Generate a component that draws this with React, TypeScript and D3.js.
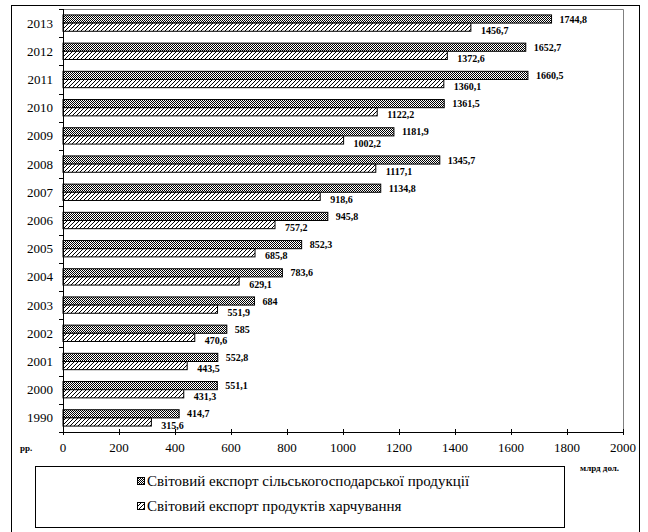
import React, { useEffect, useRef } from 'react';
import * as d3 from 'd3';

const years = ['2013', '2012', '2011', '2010', '2009', '2008', '2007', '2006', '2005', '2004', '2003', '2002', '2001', '2000', '1990'];
const agriExport = [1744.8, 1652.7, 1660.5, 1361.5, 1181.9, 1345.7, 1134.8, 945.8, 852.3, 783.6, 684, 585, 552.8, 551.1, 414.7];
const foodExport = [1456.7, 1372.6, 1360.1, 1122.2, 1002.2, 1117.1, 918.6, 757.2, 685.8, 629.1, 551.9, 470.6, 443.5, 431.3, 315.6];
const xTicks = [0, 200, 400, 600, 800, 1000, 1200, 1400, 1600, 1800, 2000];
const seriesNames = [
  'Світовий експорт сільськогосподарської продукції',
  'Світовий експорт продуктів харчування',
];

const SERIF = 'Liberation Serif';

// 684 -> "684", 551.9 -> "551,9"
const fmt = (v: number) => (Number.isInteger(v) ? String(v) : v.toFixed(1).replace('.', ','));

const App: React.FC = () => {
  const svgRef = useRef<SVGSVGElement>(null);

  useEffect(() => {
    if (!svgRef.current) return;
    const height = 532;
    const plot = { left: 63, right: 623, top: 9, bottom: 432 };

    const svg = d3.select(svgRef.current);
    svg.selectAll('*').remove();

    // patterns
    const defs = svg.append('defs');
    const checker = defs.append('pattern')
      .attr('id', 'checker')
      .attr('patternUnits', 'userSpaceOnUse')
      .attr('width', 2).attr('height', 2);
    checker.append('rect').attr('width', 2).attr('height', 2).attr('fill', '#fff');
    checker.append('rect').attr('width', 1).attr('height', 1).attr('fill', '#000');
    checker.append('rect').attr('x', 1).attr('y', 1).attr('width', 1).attr('height', 1).attr('fill', '#000');

    const hatch = defs.append('pattern')
      .attr('id', 'hatch')
      .attr('patternUnits', 'userSpaceOnUse')
      .attr('width', 4).attr('height', 4);
    hatch.append('rect').attr('width', 4).attr('height', 4).attr('fill', '#fff');
    hatch.append('path')
      .attr('d', 'M-1,1 l2,-2 M0,4 l4,-4 M3,5 l2,-2')
      .attr('stroke', '#000').attr('stroke-width', 1);

    const fills = ['url(#checker)', 'url(#hatch)'];

    // outer frame
    svg.append('rect')
      .attr('x', 11.5).attr('y', 5.5)
      .attr('width', 628).attr('height', height + 10)
      .attr('fill', 'none').attr('stroke', '#000').attr('stroke-width', 1);

    // plot area border
    svg.append('path')
      .attr('d', `M${plot.left},${plot.top + 0.5} H${plot.right + 0.5} V${plot.bottom}`)
      .attr('fill', 'none').attr('stroke', '#808080').attr('stroke-width', 1);

    const x = d3.scaleLinear().domain([0, 2000]).range([plot.left, plot.right]);
    const y = d3.scaleBand<string>()
      .domain(years)
      .range([plot.top, plot.bottom])
      .paddingInner(0.42)
      .paddingOuter(0.21);
    const sub = d3.scaleBand<number>().domain([0, 1]).range([0, y.bandwidth()]);

    const rows = years.map((yr, i) => ({ yr, vals: [agriExport[i], foodExport[i]] }));

    const g = svg.append('g');
    rows.forEach((r) => {
      r.vals.forEach((v, s) => {
        const y0 = (y(r.yr) as number) + (sub(s) as number);
        g.append('rect')
          .attr('x', x(0))
          .attr('y', y0)
          .attr('width', x(v) - x(0))
          .attr('height', sub.bandwidth())
          .attr('fill', fills[s])
          .attr('stroke', '#000')
          .attr('stroke-width', 1);
        g.append('text')
          .attr('x', x(v) + (s === 0 ? 8 : 10))
          .attr('y', s === 0 ? y0 + sub.bandwidth() / 2 + 3.5 : y0 + sub.bandwidth() + 2.5)
          .attr('font-family', SERIF)
          .attr('font-size', 10)
          .attr('font-weight', 'bold')
          .text(fmt(v));
      });
    });

    // y axis
    const step = y.step();
    svg.append('line')
      .attr('x1', plot.left + 0.5).attr('x2', plot.left + 0.5)
      .attr('y1', plot.top).attr('y2', plot.bottom)
      .attr('stroke', '#000');
    d3.range(years.length + 1).forEach((i) => {
      const ty = Math.round(plot.top + i * step) + 0.5;
      svg.append('line')
        .attr('x1', plot.left - 4).attr('x2', plot.left)
        .attr('y1', ty).attr('y2', ty)
        .attr('stroke', '#000');
    });
    years.forEach((yr) => {
      svg.append('text')
        .attr('x', 53)
        .attr('y', (y(yr) as number) + y.bandwidth() / 2 + 4.5)
        .attr('text-anchor', 'end')
        .attr('font-family', SERIF)
        .attr('font-size', 13)
        .text(yr);
    });

    // x axis
    svg.append('line')
      .attr('x1', plot.left).attr('x2', plot.right)
      .attr('y1', plot.bottom + 0.5).attr('y2', plot.bottom + 0.5)
      .attr('stroke', '#000');
    xTicks.forEach((t) => {
      svg.append('line')
        .attr('x1', Math.round(x(t)) + 0.5).attr('x2', Math.round(x(t)) + 0.5)
        .attr('y1', plot.bottom - 3).attr('y2', plot.bottom + 3)
        .attr('stroke', '#000');
      svg.append('text')
        .attr('x', x(t))
        .attr('y', plot.bottom + 20)
        .attr('text-anchor', 'middle')
        .attr('font-family', SERIF)
        .attr('font-size', 13)
        .text(t);
    });

    svg.append('text')
      .attr('x', 20).attr('y', plot.bottom + 19)
      .attr('font-family', SERIF).attr('font-size', 9).attr('font-weight', 'bold')
      .text('рр.');
    svg.append('text')
      .attr('x', 580).attr('y', plot.bottom + 39)
      .attr('font-family', SERIF).attr('font-size', 9).attr('font-weight', 'bold')
      .text('млрд дол.');

    // legend
    svg.append('rect')
      .attr('x', 35.5).attr('y', 466.5)
      .attr('width', 529).attr('height', 61)
      .attr('fill', '#fff').attr('stroke', '#000');
    seriesNames.forEach((name, i) => {
      const ly = 481 + i * 25;
      svg.append('rect')
        .attr('x', 137.5).attr('y', ly - 3.5)
        .attr('width', 7).attr('height', 7)
        .attr('fill', fills[i]).attr('stroke', '#000');
      svg.append('text')
        .attr('x', 147).attr('y', ly + 5)
        .attr('font-family', SERIF)
        .attr('font-size', 15)
        .text(name);
    });
  }, []);

  return (
    <svg
      ref={svgRef}
      width={648}
      height={532}
      viewBox="0 0 648 532"
      style={{ position: 'absolute', left: 0, top: 0, background: '#fff' }}
    />
  );
};

export default App;
